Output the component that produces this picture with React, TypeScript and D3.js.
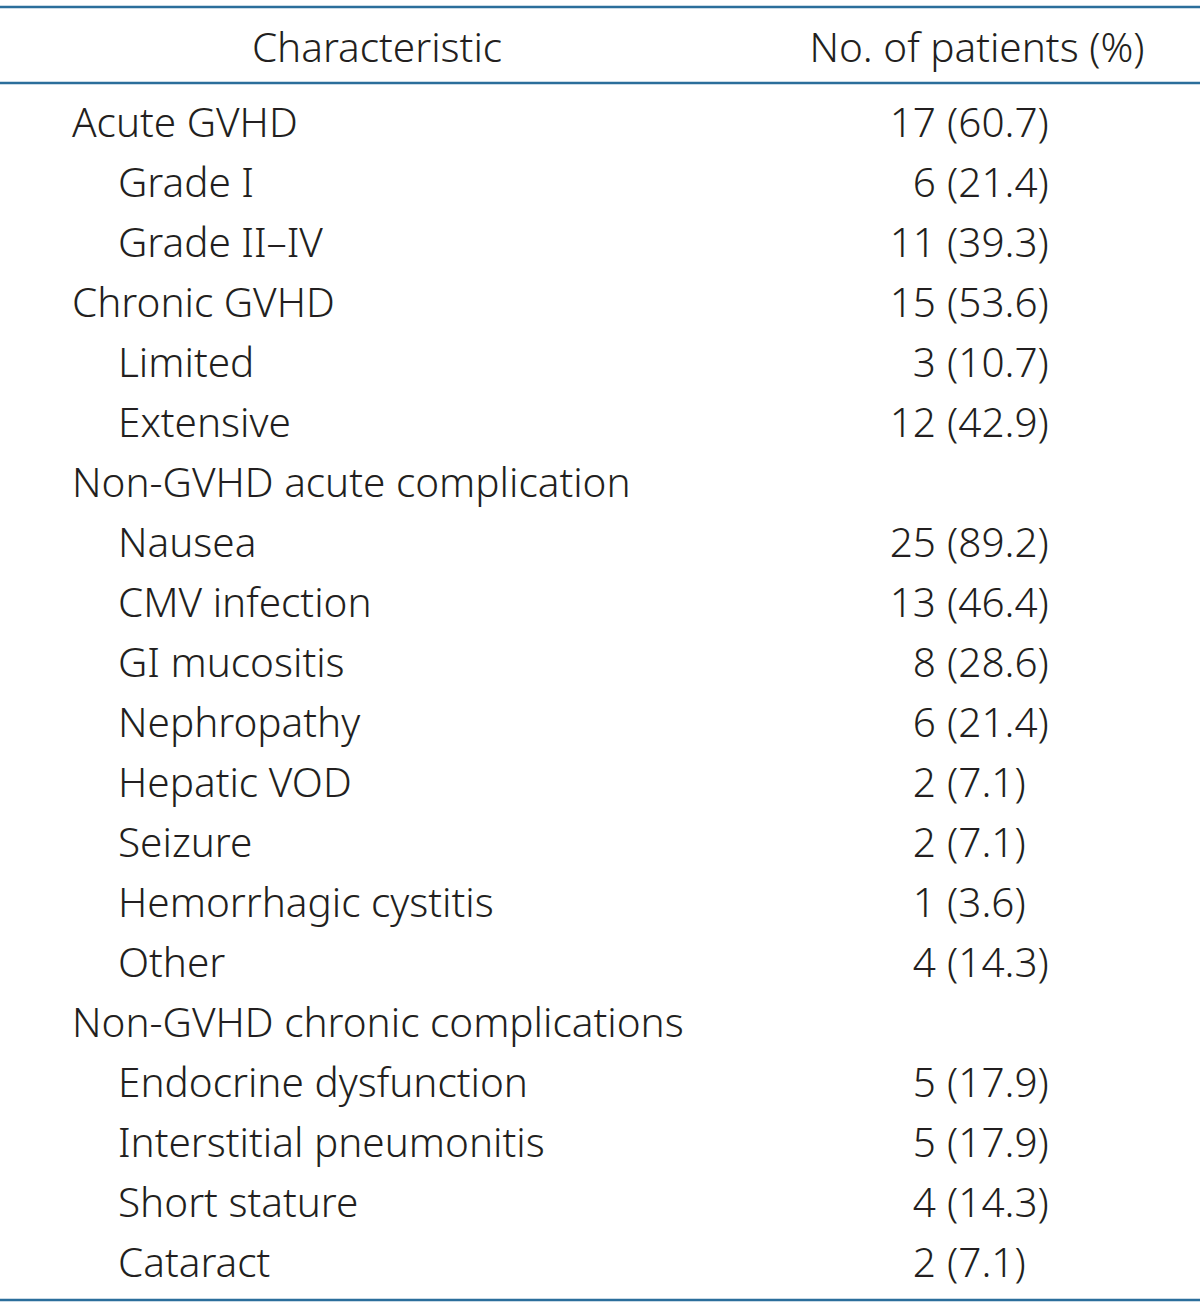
import React from "react";
import * as d3 from "d3";

const headers = ["Characteristic", "No. of patients (%)"];
const labels = [
  "Acute GVHD", "Grade I", "Grade II\u2013IV", "Chronic GVHD", "Limited", "Extensive",
  "Non-GVHD acute complication", "Nausea", "CMV infection", "GI mucositis", "Nephropathy",
  "Hepatic VOD", "Seizure", "Hemorrhagic cystitis", "Other",
  "Non-GVHD chronic complications", "Endocrine dysfunction", "Interstitial pneumonitis",
  "Short stature", "Cataract",
];
const levels = [0, 1, 1, 0, 1, 1, 0, 1, 1, 1, 1, 1, 1, 1, 1, 0, 1, 1, 1, 1];
const counts: (number | null)[] = [17, 6, 11, 15, 3, 12, null, 25, 13, 8, 6, 2, 2, 1, 4, null, 5, 5, 4, 2];
const percents: (string | null)[] = ["60.7", "21.4", "39.3", "53.6", "10.7", "42.9", null, "89.2", "46.4", "28.6", "21.4", "7.1", "7.1", "3.6", "14.3", null, "17.9", "17.9", "14.3", "7.1"];

const W = 1200;
const H = 1305;
const LINE = "#2b6e9b";
const TEXT = "#231f20";
const FONT = "'Noto Sans', sans-serif";
const FS = 40.5;

export default function App() {
  const y = d3.scaleLinear().domain([0, labels.length - 1]).range([137, 1277]);
  const indent = d3.scaleOrdinal<number, number>().domain([0, 1]).range([72, 118]);
  return (
    <svg width={W} height={H} style={{ position: "absolute", left: 0, top: 0, background: "#fff" }}>
      <line x1={0} x2={W} y1={7} y2={7} stroke={LINE} strokeWidth={2.5} />
      <line x1={0} x2={W} y1={83} y2={83} stroke={LINE} strokeWidth={2.5} />
      <line x1={0} x2={W} y1={1300} y2={1300} stroke={LINE} strokeWidth={2.5} />
      <g fontFamily={FONT} fontSize={FS} fontWeight={300} fill={TEXT}>
        <text x={377} y={62} textAnchor="middle">{headers[0]}</text>
        <text x={977} y={62} textAnchor="middle">{headers[1]}</text>
        {labels.map((l, i) => (
          <g key={i}>
            <text x={indent(levels[i])} y={y(i)}>{l}</text>
            {counts[i] !== null && (
              <>
                <text x={936} y={y(i)} textAnchor="end">{counts[i]}</text>
                <text x={947} y={y(i)}>({percents[i]})</text>
              </>
            )}
          </g>
        ))}
      </g>
    </svg>
  );
}
